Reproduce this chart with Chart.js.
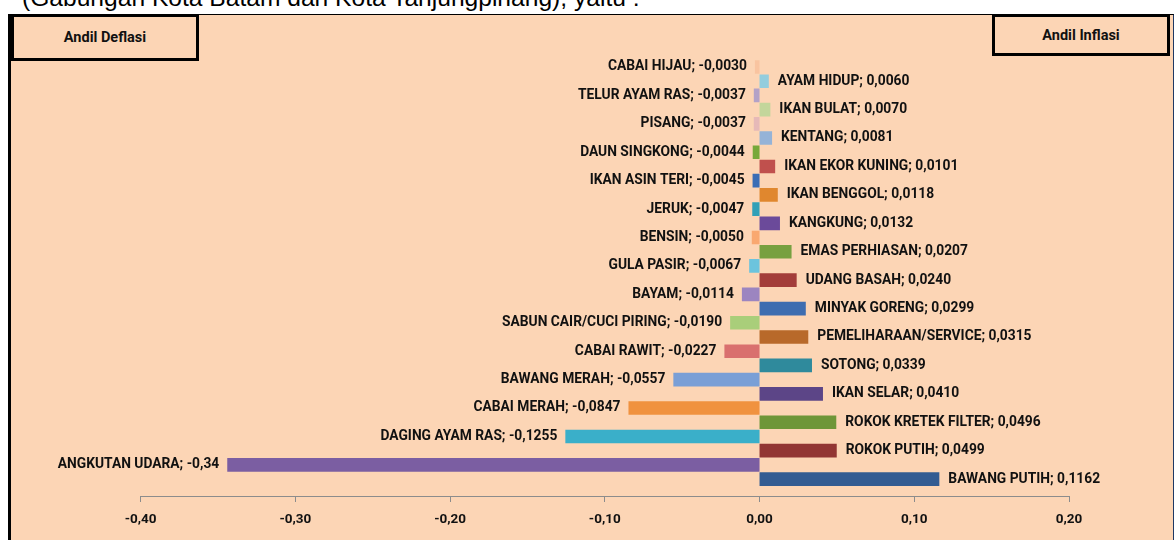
<!DOCTYPE html>
<html>
<head>
<meta charset="utf-8">
<title>Andil Inflasi dan Deflasi</title>
<script src="https://cdn.jsdelivr.net/npm/chart.js@4.4.1/dist/chart.umd.min.js"></script>
<style>
    html, body {
        margin: 0;
        padding: 0;
        background: #ffffff;
    }
    body {
        width: 1174px;
        height: 540px;
        position: relative;
        overflow: hidden;
    }
    .intro {
        position: absolute;
        left: 22px;
        top: -16px;
        font: 24.6px 'Liberation Sans', Arial, sans-serif;
        white-space: nowrap;
        color: #000;
    }
    .panel {
        position: absolute;
        left: 8px;
        top: 14px;
        width: 1162px;
        height: 540px;
        background: #fcd5b5;
        border-left: 3px solid #000;
        border-top: 1px solid #000;
        border-right: 2px solid #1f3864;
    }
    .tag {
        position: absolute;
        box-sizing: border-box;
        border: 3px solid #000;
        background: #fcd5b5;
        font: bold 14.5px Roboto, sans-serif;
        color: #111;
        display: flex;
        align-items: center;
        justify-content: center;
    }
    .tag.deflasi { left: 11px; top: 14px; width: 188px; height: 47px; }
    .tag.inflasi { left: 992px; top: 14px; width: 178px; height: 42px; }
    #chart {
        position: absolute;
        left: 0;
        top: 0;
    }
</style>
</head>
<body>
<div class="intro">(Gabungan Kota Batam dan Kota Tanjungpinang), yaitu :</div>
<div class="panel"></div>
<canvas id="chart" width="1174" height="540"></canvas>
<div class="tag deflasi">Andil Deflasi</div>
<div class="tag inflasi">Andil Inflasi</div>

<script>
// Commodities, top to bottom (deflation and inflation items alternate)
const commodities = [
    'CABAI HIJAU', 'AYAM HIDUP', 'TELUR AYAM RAS', 'IKAN BULAT',
    'PISANG', 'KENTANG', 'DAUN SINGKONG', 'IKAN EKOR KUNING',
    'IKAN ASIN TERI', 'IKAN BENGGOL', 'JERUK', 'KANGKUNG',
    'BENSIN', 'EMAS PERHIASAN', 'GULA PASIR', 'UDANG BASAH',
    'BAYAM', 'MINYAK GORENG', 'SABUN CAIR/CUCI PIRING', 'PEMELIHARAAN/SERVICE',
    'CABAI RAWIT', 'SOTONG', 'BAWANG MERAH', 'IKAN SELAR',
    'CABAI MERAH', 'ROKOK KRETEK FILTER', 'DAGING AYAM RAS', 'ROKOK PUTIH',
    'ANGKUTAN UDARA', 'BAWANG PUTIH'
];

// Contribution (andil) values
const andil = [
    -0.0030, 0.0060, -0.0037, 0.0070,
    -0.0037, 0.0081, -0.0044, 0.0101,
    -0.0045, 0.0118, -0.0047, 0.0132,
    -0.0050, 0.0207, -0.0067, 0.0240,
    -0.0114, 0.0299, -0.0190, 0.0315,
    -0.0227, 0.0339, -0.0557, 0.0410,
    -0.0847, 0.0496, -0.1255, 0.0499,
    -0.344, 0.1162
];

// Values as printed on the labels
const andilText = [
    '-0,0030', '0,0060', '-0,0037', '0,0070',
    '-0,0037', '0,0081', '-0,0044', '0,0101',
    '-0,0045', '0,0118', '-0,0047', '0,0132',
    '-0,0050', '0,0207', '-0,0067', '0,0240',
    '-0,0114', '0,0299', '-0,0190', '0,0315',
    '-0,0227', '0,0339', '-0,0557', '0,0410',
    '-0,0847', '0,0496', '-0,1255', '0,0499',
    '-0,34', '0,1162'
];

const barColors = [
    '#f9c4a0', '#93cddd', '#b3a2c7', '#c3d69b',
    '#e6b9b8', '#95b3d7', '#77a83a', '#c0504d',
    '#3a6db5', '#e0872e', '#31a0b7', '#6b4a9a',
    '#f9a870', '#77a040', '#6cc4dd', '#a33d3a',
    '#9c85c0', '#3e6db0', '#a9ce7a', '#b8692a',
    '#d9706e', '#2f8a9c', '#7a9fd6', '#5c4587',
    '#f0923f', '#6e9638', '#3aafc9', '#923634',
    '#7b5ea2', '#335c92'
];

// Axis range and step
const axisMin = -0.4;
const axisMax = 0.2;
const axisStep = 0.1;

// Draws "NAME; value" beside each bar
const barLabels = {
    id: 'barLabels',
    afterDatasetsDraw(chart) {
        const ctx = chart.ctx;
        const meta = chart.getDatasetMeta(0);
        ctx.save();
        ctx.font = 'bold 13.8px Roboto, sans-serif';
        ctx.fillStyle = '#111';
        ctx.textBaseline = 'middle';
        meta.data.forEach((bar, i) => {
            const text = commodities[i] + '; ' + andilText[i];
            if (andil[i] < 0) {
                ctx.textAlign = 'right';
                ctx.fillText(text, bar.x - 8, bar.y);
            } else {
                ctx.textAlign = 'left';
                ctx.fillText(text, bar.x + 9, bar.y);
            }
        });
        ctx.restore();
    }
};

new Chart(document.getElementById('chart'), {
    type: 'bar',
    data: {
        labels: commodities,
        datasets: [{
            data: andil.map((v, i) => ({ x: v, y: i })),
            backgroundColor: barColors,
            borderWidth: 0,
            barPercentage: 0.96,
            categoryPercentage: 1
        }]
    },
    options: {
        indexAxis: 'y',
        responsive: false,
        animation: false,
        layout: {
            padding: { left: 140.6, right: 105, top: 59.9, bottom: 1.8 }
        },
        scales: {
            y: {
                type: 'linear',
                min: -0.5,
                max: 30.19,
                offset: false,
                reverse: true,
                display: false
            },
            x: {
                min: axisMin,
                max: axisMax,
                ticks: {
                    stepSize: axisStep,
                    padding: 10,
                    color: '#111',
                    font: { family: 'Roboto', size: 13.5, weight: 'bold' },
                    callback: v => v.toFixed(2).replace('.', ',')
                },
                grid: {
                    drawOnChartArea: false,
                    drawTicks: true,
                    tickLength: 6,
                    color: '#8c8c8c'
                },
                border: {
                    display: true,
                    color: '#8c8c8c',
                    width: 1
                }
            }
        },
        plugins: {
            legend: { display: false },
            tooltip: { enabled: false }
        }
    },
    plugins: [barLabels]
});
</script>
</body>
</html>
